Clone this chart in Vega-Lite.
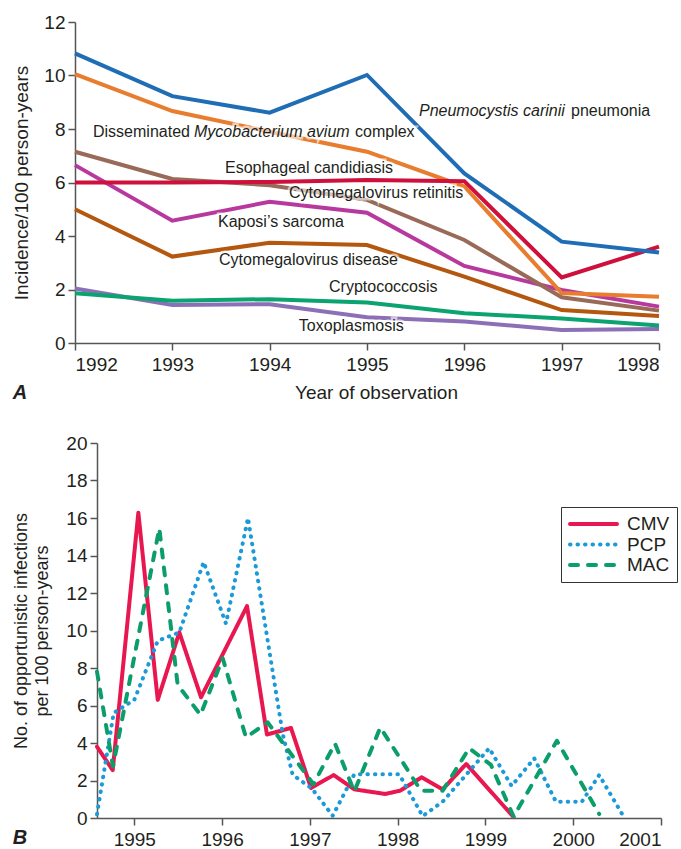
{
  "$schema": "https://vega.github.io/schema/vega-lite/v6.json",
  "padding": {"left": 12, "top": 13, "right": 0, "bottom": 0},
  "spacing": 31,
  "config": {
    "font": "Liberation Sans",
    "view": {"stroke": null},
    "axis": {"domainColor": "#555555", "domainWidth": 1.5, "tickColor": "#555555", "tickWidth": 1.5, "tickSize": 7, "labelColor": "#231f20", "labelFontSize": 19, "titleColor": "#231f20", "titleFontSize": 19, "titleFontWeight": "normal", "grid": false},
    "title": {"color": "#231f20"}
  },
  "datasets": {
    "panelA": [
      {"series": "Toxoplasmosis", "year": 1992, "incidence": 2.04},
      {"series": "Toxoplasmosis", "year": 1993, "incidence": 1.42},
      {"series": "Toxoplasmosis", "year": 1994, "incidence": 1.45},
      {"series": "Toxoplasmosis", "year": 1995, "incidence": 0.96},
      {"series": "Toxoplasmosis", "year": 1996, "incidence": 0.8},
      {"series": "Toxoplasmosis", "year": 1997, "incidence": 0.49},
      {"series": "Toxoplasmosis", "year": 1998, "incidence": 0.52},
      {"series": "Cryptococcosis", "year": 1992, "incidence": 1.86},
      {"series": "Cryptococcosis", "year": 1993, "incidence": 1.58},
      {"series": "Cryptococcosis", "year": 1994, "incidence": 1.64},
      {"series": "Cryptococcosis", "year": 1995, "incidence": 1.51},
      {"series": "Cryptococcosis", "year": 1996, "incidence": 1.11},
      {"series": "Cryptococcosis", "year": 1997, "incidence": 0.92},
      {"series": "Cryptococcosis", "year": 1998, "incidence": 0.65},
      {"series": "Cytomegalovirus disease", "year": 1992, "incidence": 5.0},
      {"series": "Cytomegalovirus disease", "year": 1993, "incidence": 3.23},
      {"series": "Cytomegalovirus disease", "year": 1994, "incidence": 3.75},
      {"series": "Cytomegalovirus disease", "year": 1995, "incidence": 3.66},
      {"series": "Cytomegalovirus disease", "year": 1996, "incidence": 2.48},
      {"series": "Cytomegalovirus disease", "year": 1997, "incidence": 1.23},
      {"series": "Cytomegalovirus disease", "year": 1998, "incidence": 1.01},
      {"series": "Kaposi’s sarcoma", "year": 1992, "incidence": 6.65},
      {"series": "Kaposi’s sarcoma", "year": 1993, "incidence": 4.57},
      {"series": "Kaposi’s sarcoma", "year": 1994, "incidence": 5.28},
      {"series": "Kaposi’s sarcoma", "year": 1995, "incidence": 4.87},
      {"series": "Kaposi’s sarcoma", "year": 1996, "incidence": 2.88},
      {"series": "Kaposi’s sarcoma", "year": 1997, "incidence": 1.98},
      {"series": "Kaposi’s sarcoma", "year": 1998, "incidence": 1.36},
      {"series": "Cytomegalovirus retinitis", "year": 1992, "incidence": 7.15},
      {"series": "Cytomegalovirus retinitis", "year": 1993, "incidence": 6.13},
      {"series": "Cytomegalovirus retinitis", "year": 1994, "incidence": 5.9},
      {"series": "Cytomegalovirus retinitis", "year": 1995, "incidence": 5.35},
      {"series": "Cytomegalovirus retinitis", "year": 1996, "incidence": 3.85},
      {"series": "Cytomegalovirus retinitis", "year": 1997, "incidence": 1.71},
      {"series": "Cytomegalovirus retinitis", "year": 1998, "incidence": 1.21},
      {"series": "Disseminated Mycobacterium avium complex", "year": 1992, "incidence": 10.05},
      {"series": "Disseminated Mycobacterium avium complex", "year": 1993, "incidence": 8.67},
      {"series": "Disseminated Mycobacterium avium complex", "year": 1994, "incidence": 7.9},
      {"series": "Disseminated Mycobacterium avium complex", "year": 1995, "incidence": 7.15},
      {"series": "Disseminated Mycobacterium avium complex", "year": 1996, "incidence": 5.85},
      {"series": "Disseminated Mycobacterium avium complex", "year": 1997, "incidence": 1.87},
      {"series": "Disseminated Mycobacterium avium complex", "year": 1998, "incidence": 1.73},
      {"series": "Esophageal candidiasis", "year": 1992, "incidence": 6.0},
      {"series": "Esophageal candidiasis", "year": 1993, "incidence": 6.0},
      {"series": "Esophageal candidiasis", "year": 1994, "incidence": 6.02},
      {"series": "Esophageal candidiasis", "year": 1995, "incidence": 6.09},
      {"series": "Esophageal candidiasis", "year": 1996, "incidence": 6.05},
      {"series": "Esophageal candidiasis", "year": 1997, "incidence": 2.45},
      {"series": "Esophageal candidiasis", "year": 1998, "incidence": 3.6},
      {"series": "Pneumocystis carinii pneumonia", "year": 1992, "incidence": 10.83},
      {"series": "Pneumocystis carinii pneumonia", "year": 1993, "incidence": 9.23},
      {"series": "Pneumocystis carinii pneumonia", "year": 1994, "incidence": 8.61},
      {"series": "Pneumocystis carinii pneumonia", "year": 1995, "incidence": 10.02},
      {"series": "Pneumocystis carinii pneumonia", "year": 1996, "incidence": 6.34},
      {"series": "Pneumocystis carinii pneumonia", "year": 1997, "incidence": 3.79},
      {"series": "Pneumocystis carinii pneumonia", "year": 1998, "incidence": 3.38}
    ],
    "labelsRoman": [
      {"label": "pneumonia", "year": 1997.096, "incidence": 8.66},
      {"label": "Disseminated", "year": 1992.185, "incidence": 7.88},
      {"label": "complex", "year": 1994.877, "incidence": 7.88},
      {"label": "Esophageal candidiasis", "year": 1993.541, "incidence": 6.53},
      {"label": "Cytomegalovirus retinitis", "year": 1994.199, "incidence": 5.62},
      {"label": "Kaposi’s sarcoma", "year": 1993.469, "incidence": 4.54},
      {"label": "Cytomegalovirus disease", "year": 1993.48, "incidence": 3.11},
      {"label": "Cryptococcosis", "year": 1994.61, "incidence": 2.08},
      {"label": "Toxoplasmosis", "year": 1994.3, "incidence": 0.62}
    ],
    "labelsItalic": [
      {"label": "Pneumocystis carinii", "year": 1995.534, "incidence": 8.66},
      {"label": "Mycobacterium avium", "year": 1993.223, "incidence": 7.88}
    ],
    "panelB": [
      {"infection": "CMV", "year": 1994.575, "rate": 3.8},
      {"infection": "CMV", "year": 1994.754, "rate": 2.55},
      {"infection": "CMV", "year": 1995.046, "rate": 16.28},
      {"infection": "CMV", "year": 1995.267, "rate": 6.3},
      {"infection": "CMV", "year": 1995.513, "rate": 9.9},
      {"infection": "CMV", "year": 1995.76, "rate": 6.44},
      {"infection": "CMV", "year": 1996.284, "rate": 11.3},
      {"infection": "CMV", "year": 1996.511, "rate": 4.45},
      {"infection": "CMV", "year": 1996.785, "rate": 4.8},
      {"infection": "CMV", "year": 1997.013, "rate": 1.6},
      {"infection": "CMV", "year": 1997.271, "rate": 2.29},
      {"infection": "CMV", "year": 1997.506, "rate": 1.53},
      {"infection": "CMV", "year": 1997.859, "rate": 1.28},
      {"infection": "CMV", "year": 1998.03, "rate": 1.46},
      {"infection": "CMV", "year": 1998.273, "rate": 2.17},
      {"infection": "CMV", "year": 1998.513, "rate": 1.53},
      {"infection": "CMV", "year": 1998.781, "rate": 2.88},
      {"infection": "CMV", "year": 1999.321, "rate": 0.05},
      {"infection": "PCP", "year": 1994.575, "rate": 0.2},
      {"infection": "PCP", "year": 1994.765, "rate": 5.6},
      {"infection": "PCP", "year": 1995.0, "rate": 6.3},
      {"infection": "PCP", "year": 1995.267, "rate": 9.45},
      {"infection": "PCP", "year": 1995.513, "rate": 9.9},
      {"infection": "PCP", "year": 1995.79, "rate": 13.65},
      {"infection": "PCP", "year": 1996.044, "rate": 10.37},
      {"infection": "PCP", "year": 1996.295, "rate": 16.0},
      {"infection": "PCP", "year": 1996.69, "rate": 4.5},
      {"infection": "PCP", "year": 1996.804, "rate": 2.3},
      {"infection": "PCP", "year": 1997.024, "rate": 1.57},
      {"infection": "PCP", "year": 1997.26, "rate": 0.12},
      {"infection": "PCP", "year": 1997.506, "rate": 2.33},
      {"infection": "PCP", "year": 1998.018, "rate": 2.33},
      {"infection": "PCP", "year": 1998.285, "rate": 0.1},
      {"infection": "PCP", "year": 1998.513, "rate": 0.87},
      {"infection": "PCP", "year": 1999.043, "rate": 3.72},
      {"infection": "PCP", "year": 1999.298, "rate": 1.71},
      {"infection": "PCP", "year": 1999.556, "rate": 3.18},
      {"infection": "PCP", "year": 1999.803, "rate": 0.87},
      {"infection": "PCP", "year": 2000.099, "rate": 0.87},
      {"infection": "PCP", "year": 2000.296, "rate": 2.29},
      {"infection": "PCP", "year": 2000.563, "rate": 0.16},
      {"infection": "MAC", "year": 1994.575, "rate": 7.8},
      {"infection": "MAC", "year": 1994.757, "rate": 2.75},
      {"infection": "MAC", "year": 1995.285, "rate": 15.45},
      {"infection": "MAC", "year": 1995.494, "rate": 7.1},
      {"infection": "MAC", "year": 1995.754, "rate": 5.5},
      {"infection": "MAC", "year": 1996.007, "rate": 8.52},
      {"infection": "MAC", "year": 1996.272, "rate": 4.3},
      {"infection": "MAC", "year": 1996.519, "rate": 5.1},
      {"infection": "MAC", "year": 1997.041, "rate": 1.8},
      {"infection": "MAC", "year": 1997.286, "rate": 3.97},
      {"infection": "MAC", "year": 1997.506, "rate": 1.41},
      {"infection": "MAC", "year": 1997.802, "rate": 4.83},
      {"infection": "MAC", "year": 1998.265, "rate": 1.46},
      {"infection": "MAC", "year": 1998.513, "rate": 1.46},
      {"infection": "MAC", "year": 1998.815, "rate": 3.72},
      {"infection": "MAC", "year": 1999.063, "rate": 2.83},
      {"infection": "MAC", "year": 1999.321, "rate": 0.07},
      {"infection": "MAC", "year": 1999.814, "rate": 4.12},
      {"infection": "MAC", "year": 2000.296, "rate": 0.21}
    ]
  },
  "resolve": {
    "scale": {"color": "independent", "strokeDash": "independent"},
    "legend": {"color": "independent", "strokeDash": "independent"}
  },
  "vconcat": [
    {
      "width": 562,
      "height": 321,
      "title": {"text": "A", "orient": "bottom", "anchor": "start", "frame": "bounds", "offset": -19, "fontSize": 20, "fontStyle": "italic", "fontWeight": "bold"},
      "encoding": {
        "x": {"field": "year", "type": "quantitative", "scale": {"domain": [1992, 1998], "range": [-22, 562], "nice": false, "zero": false},
              "axis": {"values": [1992, 1993, 1994, 1995, 1996, 1997, 1998], "format": "d", "title": "Year of observation", "labelPadding": 5, "titlePadding": 9, "titleX": 279}},
        "y": {"field": "incidence", "type": "quantitative", "scale": {"domain": [0, 12], "nice": false},
              "axis": {"values": [0, 2, 4, 6, 8, 10, 12], "title": "Incidence/100 person-years", "labelPadding": 3, "titlePadding": 12, "offset": 22}}
      },
      "layer": [
        {
          "data": {"name": "panelA"},
          "mark": {"type": "line", "strokeWidth": 4},
          "encoding": {
            "color": {"field": "series", "type": "nominal", "legend": null, "sort": null,
              "scale": {
                "domain": ["Toxoplasmosis", "Cryptococcosis", "Cytomegalovirus disease", "Kaposi’s sarcoma", "Cytomegalovirus retinitis", "Disseminated Mycobacterium avium complex", "Esophageal candidiasis", "Pneumocystis carinii pneumonia"],
                "range": ["#8c70b7", "#0ba36f", "#b4570f", "#b8399e", "#9a6a58", "#e87d2f", "#cf0f3c", "#1f6db5"]
              }}
          }
        },
        {
          "data": {"name": "labelsRoman"},
          "mark": {"type": "text", "align": "left", "baseline": "middle", "fontSize": 16, "fill": "white", "stroke": "white", "strokeWidth": 5, "opacity": 0.6},
          "encoding": {"text": {"field": "label"}}
        },
        {
          "data": {"name": "labelsItalic"},
          "mark": {"type": "text", "align": "left", "baseline": "middle", "fontSize": 16, "fontStyle": "italic", "fill": "white", "stroke": "white", "strokeWidth": 5, "opacity": 0.6},
          "encoding": {"text": {"field": "label"}}
        },
        {
          "data": {"name": "labelsRoman"},
          "mark": {"type": "text", "align": "left", "baseline": "middle", "fontSize": 16, "fill": "#231f20"},
          "encoding": {"text": {"field": "label"}}
        },
        {
          "data": {"name": "labelsItalic"},
          "mark": {"type": "text", "align": "left", "baseline": "middle", "fontSize": 16, "fontStyle": "italic", "fill": "#231f20"},
          "encoding": {"text": {"field": "label"}}
        }
      ]
    },
    {
      "width": 564,
      "height": 375,
      "title": {"text": "B", "orient": "bottom", "anchor": "start", "frame": "bounds", "offset": -21, "fontSize": 20, "fontStyle": "italic", "fontWeight": "bold"},
      "data": {"name": "panelB"},
      "mark": {"type": "line", "strokeWidth": 4, "strokeCap": "round", "strokeJoin": "round"},
      "encoding": {
        "x": {"field": "year", "type": "quantitative", "scale": {"domain": [1994.575, 2001], "nice": false, "zero": false},
              "axis": {"values": [1995, 1996, 1997, 1998, 1999, 2000, 2001], "format": "d", "title": null, "labelPadding": 5}},
        "y": {"field": "rate", "type": "quantitative", "scale": {"domain": [0, 20], "nice": false},
              "axis": {"values": [0, 2, 4, 6, 8, 10, 12, 14, 16, 18, 20], "title": ["No. of opportunistic infections", "per 100 person-years"], "titleFontSize": 18, "titleLineHeight": 21, "titlePadding": 14, "labelPadding": 3}},
        "color": {"field": "infection", "type": "nominal", "sort": null,
          "scale": {"domain": ["CMV", "PCP", "MAC"], "range": ["#e8174f", "#1b9ad9", "#0b9e6b"]},
          "legend": {"title": null, "orient": "none", "legendX": 464, "legendY": 64, "strokeColor": "#333333", "padding": 7, "labelFontSize": 19, "labelColor": "#231f20", "symbolType": "stroke", "symbolSize": 2209, "symbolStrokeWidth": 4, "clipHeight": 20, "rowPadding": 0.5, "labelOffset": 8, "symbolOffset": 0,
            "encode": {"symbols": {"update": {"strokeCap": {"value": "round"}}}}}},
        "strokeDash": {"field": "infection", "type": "nominal", "sort": null,
          "scale": {"domain": ["CMV", "PCP", "MAC"], "range": [[1, 0], [0.5, 7], [8, 10]]},
          "legend": {"title": null, "orient": "none", "legendX": 464, "legendY": 64, "strokeColor": "#333333", "padding": 7, "labelFontSize": 19, "labelColor": "#231f20", "symbolType": "stroke", "symbolSize": 2209, "symbolStrokeWidth": 4, "clipHeight": 20, "rowPadding": 0.5, "labelOffset": 8, "symbolOffset": 0,
            "encode": {"symbols": {"update": {"strokeCap": {"value": "round"}}}}}}
      }
    }
  ]
}
